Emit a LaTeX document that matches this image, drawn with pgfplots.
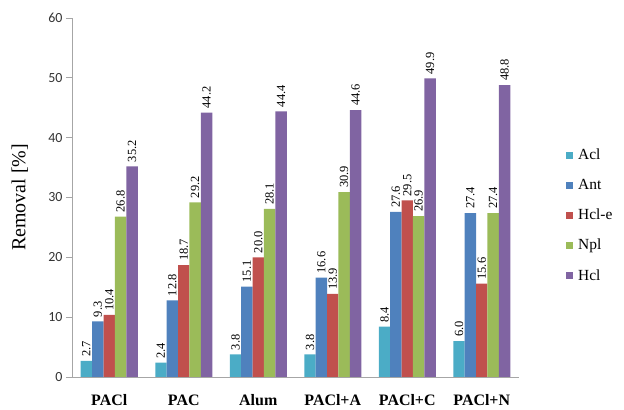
\documentclass[border=0pt]{standalone}
\usepackage{pgfplots}
\pgfplotsset{compat=1.18}
\usepackage{fontspec}
\setmainfont{Liberation Serif}
\newfontfamily\tickfont{Carlito}

\definecolor{cAcl}{HTML}{4BACC6}
\definecolor{cAnt}{HTML}{4F81BD}
\definecolor{cHcle}{HTML}{C0504D}
\definecolor{cNpl}{HTML}{9BBB59}
\definecolor{cHcl}{HTML}{8064A2}
\definecolor{axgray}{HTML}{A6A6A6}

\begin{document}
\begin{tikzpicture}
\useasboundingbox (0,0) rectangle (624bp,410bp);
\begin{axis}[
  at={(72bp,33bp)}, anchor=south west,
  scale only axis, width=447bp, height=359bp,
  ymin=0, ymax=60, xmin=-0.5, xmax=5.5,
  axis lines*=left,
  axis line style={axgray, line width=0.8pt},
  ytick={0,10,...,60},
  tick align=outside,
  ytick style={axgray, line width=0.8pt},
  major tick length=6bp,
  xtick={0,...,5},
  xtick style={draw=none},
  xticklabels={PACl,PAC,Alum,PACl+A,PACl+C,PACl+N},
  xticklabel style={font=\bfseries\fontsize{16}{16}\selectfont, yshift=-8bp},
  yticklabel style={font=\tickfont\fontsize{14}{14}\selectfont, text=black!80},
  /pgf/number format/assume math mode=true,
  ylabel={Removal [\%]},
  every axis y label/.style={at={(axis description cs:-0.117,0.5)}, rotate=90, anchor=center, font=\fontsize{20}{20}\selectfont},
  ybar=0pt, bar width=11.4bp,
  nodes near coords,
  nodes near coords style={/pgf/number format/fixed, /pgf/number format/fixed zerofill, /pgf/number format/precision=1},
  every node near coord/.append style={rotate=90, anchor=west, font=\fontsize{12.5}{12.5}\selectfont, text=black, inner sep=4bp},
  legend image code/.code={\path[#1,draw=none] (0bp,-3.5bp) rectangle (7bp,3.5bp);},
  legend style={at={(axis description cs:1.105,0.641)}, anchor=north west, draw=none, fill=none,
    font=\fontsize{15.5}{15.5}\selectfont, row sep=14bp, inner sep=0pt,
    nodes={inner xsep=5bp}},
  legend cell align=left,
]
\addplot[fill=cAcl, draw=none] coordinates {(0,2.7) (1,2.4) (2,3.8) (3,3.8) (4,8.4) (5,6.0)};
\addplot[fill=cAnt, draw=none] coordinates {(0,9.3) (1,12.8) (2,15.1) (3,16.6) (4,27.6) (5,27.4)};
\addplot[fill=cHcle, draw=none] coordinates {(0,10.4) (1,18.7) (2,20.0) (3,13.9) (4,29.5) (5,15.6)};
\addplot[fill=cNpl, draw=none] coordinates {(0,26.8) (1,29.2) (2,28.1) (3,30.9) (4,26.9) (5,27.4)};
\addplot[fill=cHcl, draw=none] coordinates {(0,35.2) (1,44.2) (2,44.4) (3,44.6) (4,49.9) (5,48.8)};
\legend{Acl,Ant,Hcl-e,Npl,Hcl}
\end{axis}
\end{tikzpicture}
\end{document}
